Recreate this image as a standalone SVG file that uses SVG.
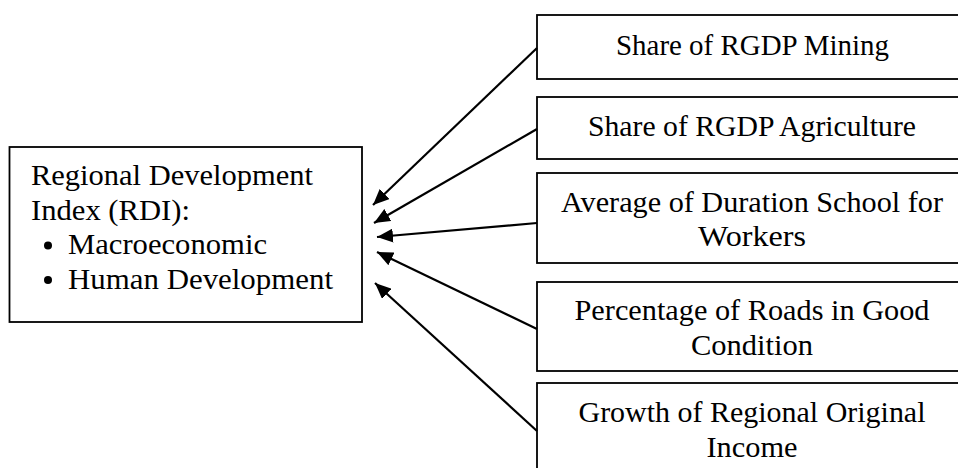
<svg xmlns="http://www.w3.org/2000/svg" width="958" height="468" viewBox="0 0 958 468">
<style>
.box{fill:#fff;stroke:#000;stroke-width:1.8}
.t{font-family:"Liberation Serif","DejaVu Serif",serif;font-size:29px;fill:#000}
.c{text-anchor:middle}
.arr{stroke:#000;stroke-width:2.2;fill:none;marker-end:url(#ah)}
</style>
<defs>
<marker id="ah" markerUnits="userSpaceOnUse" markerWidth="18" markerHeight="14" refX="16" refY="7" orient="auto">
<path d="M0,0 L16,7 L0,14 Z" fill="#000"/>
</marker>
</defs>
<rect width="958" height="468" fill="#fff"/>
<g id="rdi">
<rect class="box" x="9.5" y="147" width="352.5" height="175"/>
<text class="t" x="31" y="185" textLength="282" lengthAdjust="spacingAndGlyphs">Regional Development</text>
<text class="t" x="31" y="219.5" textLength="159" lengthAdjust="spacingAndGlyphs">Index (RDI):</text>
<circle cx="48" cy="245.5" r="4"/>
<text class="t" x="68" y="254" textLength="199" lengthAdjust="spacingAndGlyphs">Macroeconomic</text>
<circle cx="48" cy="280" r="4"/>
<text class="t" x="68" y="288.5" textLength="265" lengthAdjust="spacingAndGlyphs">Human Development</text>
</g>
<g id="mining">
<rect class="box" x="537" y="15" width="460" height="64"/>
<text class="t c" x="752.5" y="55" textLength="273" lengthAdjust="spacingAndGlyphs">Share of RGDP Mining</text>
</g>
<g id="agriculture">
<rect class="box" x="537" y="97" width="460" height="62"/>
<text class="t c" x="752" y="136" textLength="328" lengthAdjust="spacingAndGlyphs">Share of RGDP Agriculture</text>
</g>
<g id="school">
<rect class="box" x="537" y="173" width="460" height="90"/>
<text class="t c" x="752" y="212" textLength="382" lengthAdjust="spacingAndGlyphs">Average of Duration School for</text>
<text class="t c" x="752" y="246" textLength="108" lengthAdjust="spacingAndGlyphs">Workers</text>
</g>
<g id="roads">
<rect class="box" x="537" y="282" width="460" height="89"/>
<text class="t c" x="752" y="320" textLength="355" lengthAdjust="spacingAndGlyphs">Percentage of Roads in Good</text>
<text class="t c" x="752" y="355" textLength="122" lengthAdjust="spacingAndGlyphs">Condition</text>
</g>
<g id="income">
<rect class="box" x="537" y="383" width="460" height="100"/>
<text class="t c" x="752" y="422" textLength="347" lengthAdjust="spacingAndGlyphs">Growth of Regional Original</text>
<text class="t c" x="752" y="457" textLength="91" lengthAdjust="spacingAndGlyphs">Income</text>
</g>
<g id="connectors">
<line class="arr" x1="537" y1="48" x2="373" y2="205"/>
<line class="arr" x1="537" y1="129" x2="374" y2="223"/>
<line class="arr" x1="537" y1="223" x2="377" y2="237"/>
<line class="arr" x1="537" y1="329" x2="377" y2="252"/>
<line class="arr" x1="537" y1="431" x2="375" y2="283"/>
</g>
</svg>
